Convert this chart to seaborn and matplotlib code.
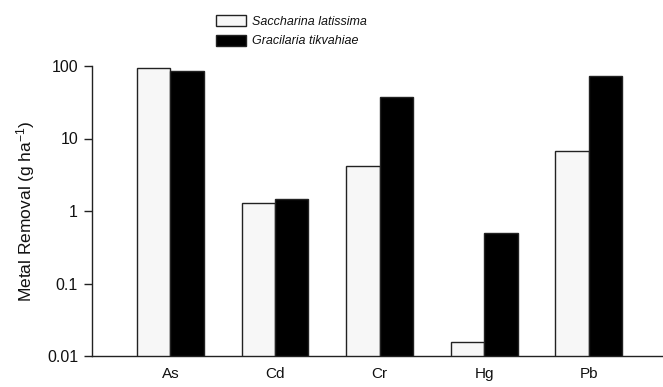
import matplotlib
matplotlib.use("Agg")
import matplotlib.pyplot as plt
import seaborn as sns
import pandas as pd
from matplotlib.ticker import FixedLocator, FixedFormatter, NullLocator

metals = ["As", "Cd", "Cr", "Hg", "Pb"]
species = ["Saccharina latissima", "Gracilaria tikvahiae"]
saccharina = [93, 1.28, 4.2, 0.0158, 6.7]
gracilaria = [84, 1.48, 37.7, 0.50, 72.8]
ytick_vals = [0.01, 0.1, 1, 10, 100]
ytick_labels = ["0.01", "0.1", "1", "10", "100"]

df = pd.DataFrame({
    "Metal": metals * 2,
    "Species": [species[0]] * len(metals) + [species[1]] * len(metals),
    "Removal": saccharina + gracilaria,
})

sns.set_style("ticks")
plt.rcParams["font.family"] = ["Liberation Sans", "DejaVu Sans"]
plt.rcParams["mathtext.fontset"] = "custom"
plt.rcParams["mathtext.rm"] = "Liberation Sans"
plt.rcParams["mathtext.default"] = "regular"

fig = plt.figure(figsize=(6.63, 3.87), dpi=100)
ax = fig.add_axes([92 / 663, 1 - 356 / 387, 1 - 92 / 663, (356 - 66) / 387])

sns.barplot(data=df, x="Metal", y="Removal", hue="Species", order=metals,
            hue_order=species, palette=["#f7f7f7", "#000000"], width=0.64,
            edgecolor="#222222", linewidth=1.0, log_scale=True, ax=ax,
            legend=True, errorbar=None)

ax.set_yscale("log")
ax.set_ylim(0.01, 100)
ax.set_xlim(-0.75, 4.71)
ax.yaxis.set_major_locator(FixedLocator(ytick_vals))
ax.yaxis.set_major_formatter(FixedFormatter(ytick_labels))
ax.yaxis.set_minor_locator(NullLocator())
ax.tick_params(axis="y", length=6, width=1, labelsize=11.5, color="#222222",
               labelcolor="#111111", pad=4)
ax.tick_params(axis="x", length=0, labelsize=11, labelcolor="#111111", pad=8)
ax.set_xlabel("")
ax.set_ylabel("Metal Removal (g ha$^{-1}$)", fontsize=12.5, labelpad=7,
              color="#111111")
for s in ["top", "right"]:
    ax.spines[s].set_visible(False)
for s in ["left", "bottom"]:
    ax.spines[s].set_color("#222222")
    ax.spines[s].set_linewidth(1.0)

handles, labels = ax.get_legend_handles_labels()
ax.get_legend().remove()
leg = fig.legend(handles, labels, loc="upper left",
                 bbox_to_anchor=(210 / 663, 1 - 9 / 387), frameon=False,
                 prop={"style": "italic", "size": 9.0}, borderpad=0,
                 handlelength=2.35, handleheight=0.95, handletextpad=0.55,
                 labelspacing=0.55)
for t in leg.get_texts():
    t.set_color("#111111")

fig.savefig("out.png", dpi=100)
